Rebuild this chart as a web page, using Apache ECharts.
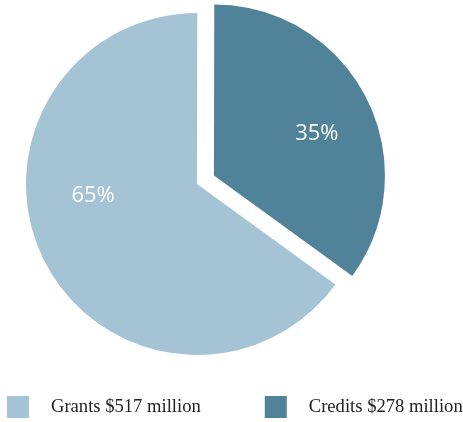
<!DOCTYPE html>
<html><head><meta charset="utf-8">
<script src="https://cdn.jsdelivr.net/npm/echarts@6/dist/echarts.min.js"></script>
<style>html,body{margin:0;padding:0;background:#fff}#c{width:463px;height:422px}</style>
</head><body><div id="c"></div>
<script>
const categories = ['Grants $517 million', 'Credits $278 million'];
const values = [517, 278];
const colors = ['#a4c4d5', '#50839a'];
const labelOffsets = [[-25, -28], [24, -2]];
const selectedFlags = [false, true];

const chart = echarts.init(document.getElementById('c'));
chart.setOption({
  animation: false,
  legend: {
    data: categories,
    left: 2, top: 391,
    width: 600,
    orient: 'horizontal',
    icon: 'rect',
    itemWidth: 22, itemHeight: 22,
    itemGap: 64,
    selectedMode: false,
    textStyle: { fontFamily: 'Liberation Serif', fontSize: 18.6, color: '#222', padding: [0, 0, 0, 17] }
  },
  series: [{
    type: 'pie',
    center: [197, 184],
    radius: 171,
    startAngle: -36,
    clockwise: true,
    selectedMode: 'multiple',
    selectedOffset: 19,
    label: {
      position: 'inside',
      formatter: p => Math.round(p.percent) + '%',
      color: '#fff', fontSize: 22, fontFamily: 'Open Sans'
    },
    labelLine: { show: false },
    emphasis: { disabled: true },
    data: categories.map((n, i) => ({
      name: n, value: values[i], selected: selectedFlags[i],
      itemStyle: { color: colors[i] },
      label: { offset: labelOffsets[i] },
      select: { label: { offset: labelOffsets[i] } }
    }))
  }]
});
</script></body></html>
